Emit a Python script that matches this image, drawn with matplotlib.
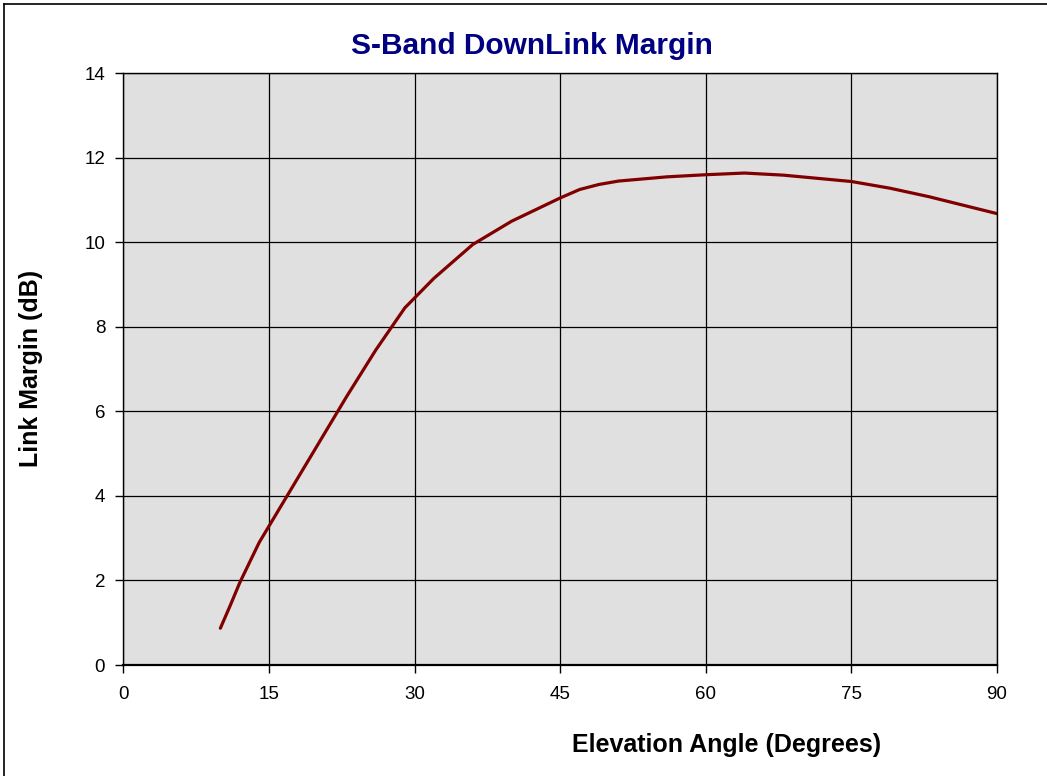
import matplotlib
matplotlib.use('Agg')
import matplotlib.pyplot as plt
from matplotlib.lines import Line2D

plt.rcParams['font.family'] = ['Liberation Sans', 'DejaVu Sans']

# elevation angle (deg) and link margin (dB)
elevation = [10, 11, 12, 14, 17, 20, 23, 26, 29, 32, 36, 40, 45, 47, 49, 51,
             56, 60, 64, 68, 75, 79, 83, 90]
margin = [0.87, 1.4, 1.95, 2.9, 4.05, 5.2, 6.35, 7.45, 8.45, 9.15, 9.95, 10.5,
          11.05, 11.25, 11.37, 11.45, 11.55, 11.6, 11.64, 11.59, 11.44, 11.28,
          11.08, 10.68]
x_ticks = [0, 15, 30, 45, 60, 75, 90]
y_ticks = [0, 2, 4, 6, 8, 10, 12, 14]

W, H = 1047, 776
fig = plt.figure(figsize=(W / 100, H / 100), dpi=100)
ax = fig.add_axes([123.3 / W, 1 - 665 / H, (997 - 123.3) / W, (665 - 73.3) / H])

ax.set_facecolor('#e0e0e0')
ax.plot(elevation, margin, color='#800000', linewidth=2.3, solid_capstyle='round')

ax.set_xlim(0, 90)
ax.set_ylim(0, 14)
ax.set_xticks(x_ticks)
ax.set_yticks(y_ticks)
ax.grid(True, color='black', linewidth=0.9)
ax.set_axisbelow(True)
for s in ax.spines.values():
    s.set_color('black')
    s.set_linewidth(1.0)
ax.spines['bottom'].set_linewidth(1.6)
ax.tick_params(direction='out', length=6, width=1, labelsize=13.5, colors='black')
ax.tick_params(axis='x', pad=9)
ax.tick_params(axis='y', pad=7)

fig.text(532 / W, 1 - 46 / H, 'S-Band DownLink Margin', ha='center', va='center',
         fontsize=21.5, fontweight='bold', color='#000080')
fig.text(727 / W, 1 - 745 / H, 'Elevation Angle (Degrees)', ha='center', va='center',
         fontsize=18, fontweight='bold')
fig.text(31 / W, 1 - 368 / H, 'Link Margin (dB)', ha='center', va='center',
         rotation=90, fontsize=18, fontweight='bold')

# outer chart frame (only left and top edges are visible)
fig.add_artist(Line2D([4 / W, 4 / W], [0, 1 - 4 / H], transform=fig.transFigure,
                      color='black', linewidth=1.2))
fig.add_artist(Line2D([4 / W, 1], [1 - 4 / H, 1 - 4 / H], transform=fig.transFigure,
                      color='black', linewidth=1.2))

fig.savefig('out.png', dpi=100)
